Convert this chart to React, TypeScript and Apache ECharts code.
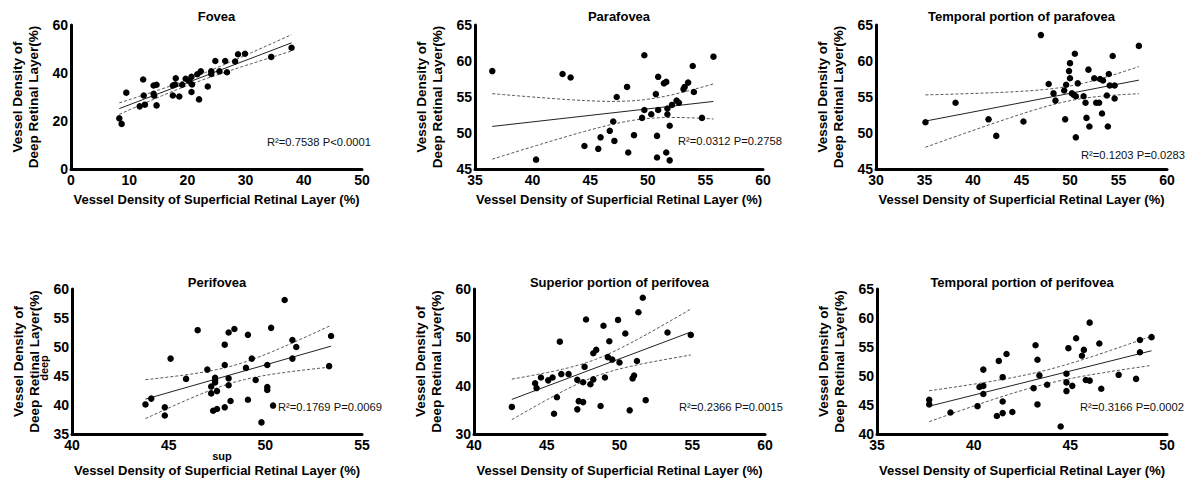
import { useEffect, useRef } from "react";
import * as echarts from "echarts";

// ---------- data ----------
const TITLES = [
  "Fovea",
  "Parafovea",
  "Temporal portion of parafovea",
  "Perifovea",
  "Superior portion of perifovea",
  "Temporal portion of perifovea",
];
const STATS = [
  "R²=0.7538 P<0.0001",
  "R²=0.0312 P=0.2758",
  "R²=0.1203 P=0.0283",
  "R²=0.1769 P=0.0069",
  "R²=0.2366 P=0.0015",
  "R²=0.3166 P=0.0002",
];
const Y_NAME = "Vessel Density of\nDeep Retinal Layer(%)";
const X_NAME = "Vessel Density of Superficial Retinal Layer (%)";

// [min, max, interval]
const X_RANGES = [
  [0, 50, 10],
  [35, 60, 5],
  [30, 60, 5],
  [40, 55, 5],
  [40, 60, 5],
  [35, 50, 5],
];
const Y_RANGES = [
  [0, 60, 20],
  [45, 65, 5],
  [45, 65, 5],
  [35, 60, 5],
  [30, 60, 10],
  [40, 65, 5],
];

const FOVEA_SUP = [8.3, 8.7, 9.5, 12.4, 12.5, 11.8, 12.7, 14.2, 14.7, 14.2, 14.3, 14.7, 17.5, 17.9, 17.5, 18.0, 18.6, 19.1, 19.7, 20.3, 20.7, 20.8, 20.7, 21.7, 22.3, 22.0, 23.5, 24.1, 24.1, 24.8, 25.5, 26.5, 26.8, 28.2, 28.7, 29.9, 34.4, 37.9];
const FOVEA_DEEP = [21.1, 18.8, 31.8, 37.3, 30.6, 26.1, 26.8, 34.8, 35.1, 31.3, 30.5, 26.5, 34.8, 35.2, 30.6, 37.8, 30.2, 35.1, 37.6, 36.6, 38.4, 35.2, 32.1, 39.5, 40.7, 29.0, 34.4, 40.7, 39.6, 45.0, 40.7, 45.0, 40.3, 44.8, 47.8, 48.0, 46.7, 50.5];

const PARA_SUP = [36.5, 40.3, 42.6, 43.3, 44.5, 45.7, 45.9, 46.7, 47.0, 47.1, 47.3, 48.2, 48.3, 48.8, 49.7, 49.5, 49.7, 50.3, 50.7, 50.8, 50.8, 50.9, 50.9, 51.4, 51.6, 51.6, 51.7, 51.7, 51.9, 51.9, 52.1, 52.5, 52.7, 53.1, 53.2, 53.5, 53.9, 54.0, 54.7, 55.7];
const PARA_DEEP = [58.6, 46.3, 58.2, 57.7, 48.2, 47.8, 49.4, 50.3, 51.6, 48.9, 55.0, 56.4, 47.3, 49.7, 60.8, 52.1, 53.2, 52.6, 55.4, 49.6, 46.6, 57.8, 53.2, 56.9, 57.1, 47.3, 53.4, 52.6, 46.2, 51.0, 53.9, 54.5, 54.2, 56.1, 56.4, 57.0, 59.3, 55.7, 52.1, 60.6];

const TPARA_SUP = [35.1, 38.2, 41.6, 42.4, 45.2, 47.0, 47.8, 48.3, 48.5, 49.4, 49.5, 49.6, 49.9, 50.0, 50.0, 50.2, 50.4, 50.5, 50.6, 50.6, 50.8, 51.4, 51.6, 51.7, 51.9, 52.0, 52.5, 52.7, 53.0, 53.1, 53.4, 53.3, 53.8, 53.9, 54.0, 54.1, 54.4, 54.6, 54.6, 57.1];
const TPARA_DEEP = [51.5, 54.2, 51.9, 49.6, 51.6, 63.6, 56.8, 55.5, 54.5, 55.9, 51.9, 56.7, 58.6, 59.7, 57.6, 55.5, 55.3, 61.0, 55.1, 49.4, 56.9, 55.1, 54.2, 52.1, 58.8, 50.9, 57.6, 54.2, 54.2, 57.5, 57.3, 52.7, 55.2, 50.9, 58.2, 56.6, 60.7, 56.6, 54.8, 62.1];

const PERI_SUP = [43.8, 44.1, 44.8, 44.8, 45.1, 45.9, 46.5, 47.0, 47.2, 47.2, 47.4, 47.4, 47.4, 47.3, 47.5, 47.5, 47.9, 47.9, 47.9, 48.1, 48.1, 48.1, 48.2, 48.4, 49.0, 49.1, 49.1, 49.3, 49.5, 49.8, 50.1, 50.1, 50.1, 50.3, 50.4, 51.0, 51.4, 51.4, 51.6, 53.3, 53.4];
const PERI_DEEP = [40.1, 41.1, 39.6, 38.2, 48.0, 44.5, 52.9, 46.1, 43.2, 42.0, 44.7, 44.3, 43.9, 39.0, 39.3, 42.4, 50.4, 46.9, 39.6, 52.5, 44.6, 43.4, 40.7, 53.1, 46.4, 52.1, 40.9, 48.0, 44.3, 37.0, 46.9, 43.1, 42.6, 53.3, 39.9, 58.1, 51.2, 48.0, 50.0, 46.7, 51.9];

const SPERI_SUP = [42.6, 44.2, 44.3, 44.6, 45.1, 45.4, 45.9, 45.7, 45.5, 46.0, 46.5, 47.1, 47.1, 47.2, 47.5, 47.5, 47.6, 47.7, 48.0, 48.2, 48.2, 48.4, 48.7, 48.9, 49.0, 49.2, 49.3, 49.5, 49.9, 50.0, 50.4, 50.7, 50.9, 51.0, 51.2, 51.3, 51.6, 51.8, 53.3, 54.9];
const SPERI_DEEP = [35.6, 40.5, 39.5, 41.7, 41.1, 41.7, 49.1, 37.6, 34.2, 42.4, 42.4, 41.2, 35.1, 36.8, 36.6, 40.7, 43.9, 53.7, 40.3, 41.3, 46.7, 47.4, 35.8, 52.4, 41.7, 45.9, 49.2, 45.4, 53.6, 44.8, 50.8, 34.9, 41.5, 42.1, 45.1, 55.2, 58.2, 37.0, 51.0, 50.5];

const TPERI_SUP = [37.7, 37.7, 38.8, 40.2, 40.3, 40.5, 40.5, 40.5, 41.2, 41.3, 41.5, 41.5, 41.5, 41.7, 42.0, 43.1, 43.2, 43.3, 43.3, 43.4, 43.8, 44.5, 44.8, 44.8, 44.8, 44.9, 45.1, 45.3, 45.6, 45.7, 45.8, 46.0, 46.0, 46.5, 46.6, 47.5, 48.4, 48.6, 48.6, 49.2];
const TPERI_DEEP = [45.9, 45.1, 43.7, 44.8, 48.1, 48.3, 51.1, 46.9, 43.1, 52.6, 45.6, 49.8, 43.6, 53.8, 43.8, 47.9, 55.3, 52.8, 45.1, 50.1, 48.5, 41.3, 50.4, 48.9, 47.4, 54.8, 48.3, 56.5, 53.5, 54.5, 49.3, 59.2, 49.2, 55.6, 47.8, 50.2, 49.5, 56.2, 54.1, 56.7];

const SUP_SERIES = [FOVEA_SUP, PARA_SUP, TPARA_SUP, PERI_SUP, SPERI_SUP, TPERI_SUP];
const DEEP_SERIES = [FOVEA_DEEP, PARA_DEEP, TPARA_DEEP, PERI_DEEP, SPERI_DEEP, TPERI_DEEP];

// ---------- layout ----------
const GRIDS = [
  { left: 71, top: 25, width: 291, height: 144 },
  { left: 475, top: 25, width: 288, height: 144 },
  { left: 876, top: 25, width: 291, height: 144 },
  { left: 72, top: 289, width: 290, height: 145 },
  { left: 474, top: 289, width: 291, height: 145 },
  { left: 877, top: 289, width: 290, height: 145 },
];
const STAT_POS = [
  [267, 142],
  [678, 141],
  [1081, 155],
  [278, 407],
  [679, 407],
  [1080, 407],
];
const TITLE_Y = [16, 16, 16, 282, 282, 282];
const XNAME_Y = [199, 199, 199, 470, 470, 470];

const FONT = "'Liberation Sans', Arial, Helvetica, sans-serif";
const T975 = 2.024; // Student t, two-sided 95%, df≈38
const SAMPLES = 60;

function regression(xs: number[], ys: number[]) {
  const n = xs.length;
  const mx = xs.reduce((s, v) => s + v, 0) / n;
  const my = ys.reduce((s, v) => s + v, 0) / n;
  let sxx = 0;
  let sxy = 0;
  for (let i = 0; i < n; i++) {
    sxx += (xs[i] - mx) ** 2;
    sxy += (xs[i] - mx) * (ys[i] - my);
  }
  const b = sxy / sxx;
  const a = my - b * mx;
  let sse = 0;
  for (let i = 0; i < n; i++) sse += (ys[i] - a - b * xs[i]) ** 2;
  const s = Math.sqrt(sse / (n - 2));
  const xmin = Math.min(...xs);
  const xmax = Math.max(...xs);
  const line = [
    [xmin, a + b * xmin],
    [xmax, a + b * xmax],
  ];
  const upper: number[][] = [];
  const lower: number[][] = [];
  for (let k = 0; k <= SAMPLES; k++) {
    const x = xmin + ((xmax - xmin) * k) / SAMPLES;
    const half = T975 * s * Math.sqrt(1 / n + (x - mx) ** 2 / sxx);
    upper.push([x, a + b * x + half]);
    lower.push([x, a + b * x - half]);
  }
  return { line, upper, lower };
}

export default function App() {
  const ref = useRef<HTMLDivElement>(null);
  useEffect(() => {
    if (!ref.current) return;
    const chart = echarts.init(ref.current, undefined, { renderer: "svg" });

    const grid: any[] = [];
    const xAxis: any[] = [];
    const yAxis: any[] = [];
    const series: any[] = [];
    const graphic: any[] = [];

    for (let i = 0; i < 6; i++) {
      const g = GRIDS[i];
      grid.push({ ...g, containLabel: false });
      const axisCommon = {
        axisLine: { show: true, onZero: false, lineStyle: { color: "#000", width: 3 } },
        axisTick: { show: false },
        splitLine: { show: false },
      };
      xAxis.push({
        type: "value",
        gridIndex: i,
        min: X_RANGES[i][0],
        max: X_RANGES[i][1],
        interval: X_RANGES[i][2],
        ...axisCommon,
        axisLabel: { color: "#000", fontSize: 14, fontWeight: "bold", fontFamily: FONT, margin: 4 },
      });
      yAxis.push({
        type: "value",
        gridIndex: i,
        min: Y_RANGES[i][0],
        max: Y_RANGES[i][1],
        interval: Y_RANGES[i][2],
        ...axisCommon,
        axisLabel: { color: "#000", fontSize: 14, fontWeight: "bold", fontFamily: FONT, margin: 3 },
      });

      const xs = SUP_SERIES[i];
      const ys = DEEP_SERIES[i];
      const reg = regression(xs, ys);

      series.push({
        type: "scatter",
        xAxisIndex: i,
        yAxisIndex: i,
        data: xs.map((x, k) => [x, ys[k]]),
        symbolSize: 6.5,
        itemStyle: { color: "#000", opacity: 1 },
        z: 5,
      });
      series.push({
        type: "line",
        xAxisIndex: i,
        yAxisIndex: i,
        data: reg.line,
        symbol: "none",
        lineStyle: { color: "#222", width: 1 },
        z: 4,
      });
      for (const band of [reg.upper, reg.lower]) {
        series.push({
          type: "line",
          xAxisIndex: i,
          yAxisIndex: i,
          data: band,
          symbol: "none",
          lineStyle: { color: "#555", width: 1, type: [3, 2] },
          z: 3,
        });
      }

      const cx = g.left + g.width / 2;
      const cy = g.top + g.height / 2;
      graphic.push({
        type: "text",
        x: cx,
        y: TITLE_Y[i],
        style: {
          text: TITLES[i],
          fill: "#000",
          font: `bold 13px ${FONT}`,
          textAlign: "center",
          textVerticalAlign: "middle",
        },
      });
      graphic.push({
        type: "text",
        x: g.left - 46,
        y: cy,
        rotation: Math.PI / 2,
        style: {
          text: Y_NAME,
          fill: "#000",
          font: `bold 13.5px ${FONT}`,
          lineHeight: 16,
          textAlign: "center",
          textVerticalAlign: "middle",
        },
      });
      graphic.push({
        type: "text",
        x: cx,
        y: XNAME_Y[i],
        style: {
          text: X_NAME,
          fill: "#000",
          font: `bold 13px ${FONT}`,
          textAlign: "center",
          textVerticalAlign: "middle",
        },
      });
      graphic.push({
        type: "text",
        x: STAT_POS[i][0],
        y: STAT_POS[i][1],
        style: {
          text: STATS[i],
          fill: "#111",
          font: `11.2px ${FONT}`,
          textAlign: "left",
          textVerticalAlign: "middle",
        },
      });
    }

    graphic.push({
      type: "text",
      x: 222,
      y: 456,
      style: { text: "sup", fill: "#000", font: `bold 11px ${FONT}`, textAlign: "center", textVerticalAlign: "middle" },
    });
    graphic.push({
      type: "text",
      x: 44,
      y: 368,
      rotation: Math.PI / 2,
      style: { text: "deep", fill: "#000", font: `bold 11px ${FONT}`, textAlign: "center", textVerticalAlign: "middle" },
    });

    chart.setOption({
      animation: false,
      backgroundColor: "#fff",
      grid,
      xAxis,
      yAxis,
      series,
      graphic,
    });
    return () => chart.dispose();
  }, []);

  return (
    <div
      ref={ref}
      style={{ position: "fixed", left: 0, top: 0, width: 1193, height: 486, background: "#fff" }}
    />
  );
}
